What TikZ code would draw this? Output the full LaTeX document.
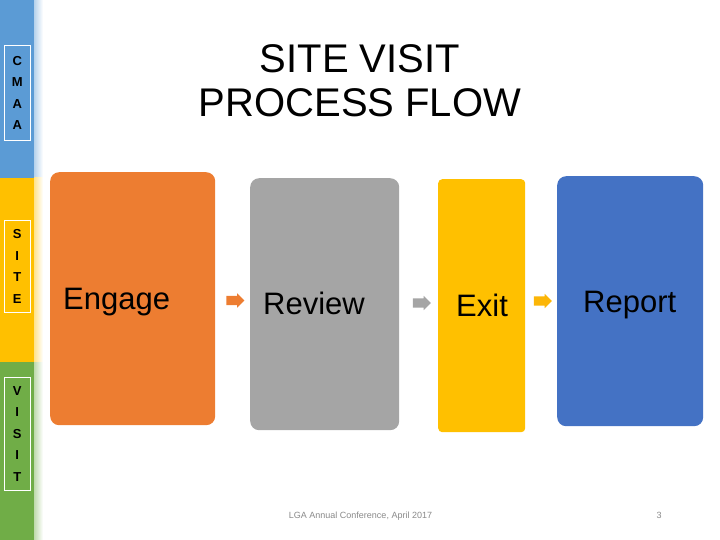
\documentclass[tikz,border=0pt]{standalone}
\usepackage{fontspec}
\setmainfont{Liberation Sans}
\usetikzlibrary{shapes.arrows}
\definecolor{cBlue}{HTML}{5B9BD5}
\definecolor{cYel}{HTML}{FFC000}
\definecolor{cGreen}{HTML}{70AD47}
\definecolor{bOrange}{HTML}{ED7D31}
\definecolor{bGrey}{HTML}{A5A5A5}
\definecolor{bYel}{HTML}{FFC000}
\definecolor{bBlue}{HTML}{4472C4}
\definecolor{foot}{HTML}{898989}
\tikzset{
  stagebox/.style={draw=none, fill=#1, rounded corners=9pt, inner sep=0pt},
  stagetxt/.style={anchor=base west, inner sep=0pt, font=\fontsize{31}{31}\selectfont, text=black},
  flowarrow/.style={single arrow, fill=#1, draw=none, inner xsep=0pt, inner ysep=0pt, text height=9pt, text depth=0pt, minimum height=18pt, single arrow head extend=2.5pt},
  sidelbl/.style={align=center, inner sep=0pt, font=\fontsize{13}{21.5}\selectfont\bfseries, text=black},
  sideframe/.style={draw=white, line width=0.6pt, fill=none},
}
\begin{document}
\begin{tikzpicture}[x=1pt,y=-1pt]
\useasboundingbox (0,0) rectangle (720,540);
% left bar
\fill[cBlue] (0,0) rectangle (34,178);
\fill[cYel] (0,178) rectangle (34,362);
\fill[cGreen] (0,362) rectangle (34,540);
\shade[left color=cBlue!45, right color=white] (34,0) rectangle (43,178);
\shade[left color=cYel!45, right color=white] (34,178) rectangle (43,362);
\shade[left color=cGreen!45, right color=white] (34,362) rectangle (43,540);
\node[sideframe, minimum width=26pt, minimum height=95pt, anchor=north west] (f1) at (4,45) {};
\node[sideframe, minimum width=26pt, minimum height=92pt, anchor=north west] (f2) at (4,220) {};
\node[sideframe, minimum width=26pt, minimum height=113pt, anchor=north west] (f3) at (4,377) {};
\node[sidelbl] (l1) at (f1.center) {C\\M\\A\\A};
\node[sidelbl] (l2) at (f2.center) {S\\I\\T\\E};
\node[sidelbl] (l3) at (f3.center) {V\\I\\S\\I\\T};
% title
\node[anchor=base, inner sep=0pt, font=\fontsize{40}{40}\selectfont] (t1) at (360,73) {SITE VISIT};
\node[anchor=base, inner sep=0pt, font=\fontsize{40}{40}\selectfont] (t2) at (360,117) {PROCESS FLOW};
% stage boxes
\node[stagebox=bOrange, minimum width=165pt, minimum height=253pt, anchor=north west] (b1) at (50,172) {};
\node[stagebox=bGrey, minimum width=149pt, minimum height=252pt, anchor=north west] (b2) at (250,178) {};
\node[stagebox=bYel, rounded corners=4pt, minimum width=87pt, minimum height=253pt, anchor=north west] (b3) at (438,179) {};
\node[stagebox=bBlue, minimum width=146pt, minimum height=250pt, anchor=north west] (b4) at (557,176) {};
\node[stagetxt] (s1) at (63,309) {Engage};
\node[stagetxt] (s2) at (263,314) {Review};
\node[stagetxt] (s3) at (456,316) {Exit};
\node[stagetxt] (s4) at (583,312) {Report};
% arrows
\node[flowarrow=bOrange] (a1) at (233,300.5) {};
\node[flowarrow=bGrey] (a2) at (419.5,303) {};
\node[flowarrow=bYel!85!bOrange] (a3) at (540.5,301) {};
% footer
\node[anchor=base, inner sep=0pt, font=\fontsize{9}{9}\selectfont, text=foot] (ft) at (360.5,518) {LGA Annual Conference, April 2017};
\node[anchor=base, inner sep=0pt, font=\fontsize{9}{9}\selectfont, text=foot] (pg) at (659,518) {3};
\end{tikzpicture}
\end{document}
